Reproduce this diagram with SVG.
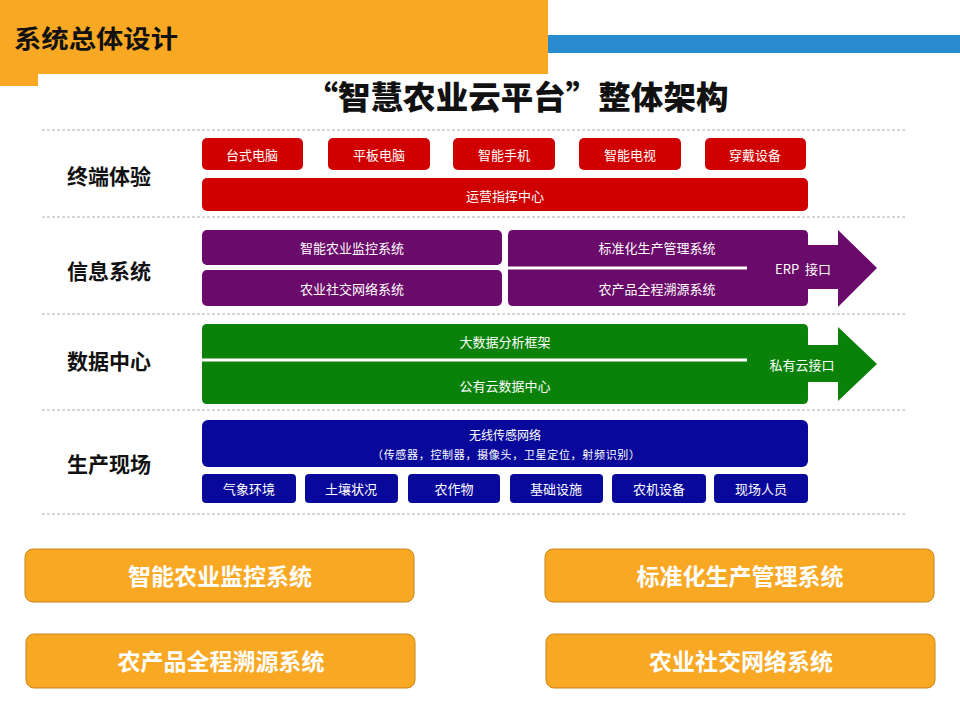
<svg xmlns="http://www.w3.org/2000/svg" width="960" height="720" viewBox="0 0 960 720">
<style>
text{font-family:"Noto Sans CJK SC","Noto Sans",sans-serif;}
.lbl{font-size:21px;font-weight:bold;fill:#111;text-anchor:middle;dominant-baseline:central;}
.t{font-size:13px;fill:#fff;text-anchor:middle;dominant-baseline:central;}
.s{font-size:11px;fill:#fff;text-anchor:middle;dominant-baseline:central;}
.red{fill:#d00000;}
.pur{fill:#6a0a6a;}
.grn{fill:#0a820a;}
.blu{fill:#08089a;}
.org{fill:#f9a824;stroke:#c9861a;stroke-width:1;}
.ot{font-size:23px;font-weight:bold;fill:#fff;text-anchor:middle;dominant-baseline:central;}
.dash{stroke:#a8b0b8;stroke-width:1;stroke-dasharray:3 2;fill:none;}
.sep{stroke:#fff;stroke-width:3;}
</style>
<rect width="960" height="720" fill="#fff"/>
<g id="header">
<rect x="0" y="0" width="548" height="74" fill="#f9a824"/>
<rect x="0" y="0" width="38" height="86" fill="#f9a824"/>
<rect x="548" y="35" width="412" height="18" fill="#2a8cd0"/>
<text x="14" y="37" textLength="164" lengthAdjust="spacingAndGlyphs" style="font-size:25px;font-weight:bold;fill:#111;dominant-baseline:central;">系统总体设计</text>
</g>
<g id="title">
<text x="517" y="95" textLength="423" lengthAdjust="spacingAndGlyphs" style="font-size:32px;font-weight:900;fill:#111;text-anchor:middle;dominant-baseline:central;">“智慧农业云平台”整体架构</text>
</g>
<g id="dividers">
<line class="dash" x1="42" y1="130" x2="905" y2="130"/>
<line class="dash" x1="42" y1="217" x2="905" y2="217"/>
<line class="dash" x1="42" y1="314" x2="905" y2="314"/>
<line class="dash" x1="42" y1="410" x2="905" y2="410"/>
<line class="dash" x1="42" y1="514" x2="905" y2="514"/>
</g>
<g id="row-labels">
<text class="lbl" x="109" y="175">终端体验</text>
<text class="lbl" x="109" y="270">信息系统</text>
<text class="lbl" x="109" y="360">数据中心</text>
<text class="lbl" x="109" y="463">生产现场</text>
</g>
<g id="terminal">
<rect class="red" x="202" y="138" width="101" height="32" rx="5"/><text class="t" x="252" y="154">台式电脑</text>
<rect class="red" x="328" y="138" width="102" height="32" rx="5"/><text class="t" x="379" y="154">平板电脑</text>
<rect class="red" x="453" y="138" width="102" height="32" rx="5"/><text class="t" x="504" y="154">智能手机</text>
<rect class="red" x="579" y="138" width="102" height="32" rx="5"/><text class="t" x="630" y="154">智能电视</text>
<rect class="red" x="705" y="138" width="101" height="32" rx="5"/><text class="t" x="755" y="154">穿戴设备</text>
<rect class="red" x="202" y="178" width="606" height="33" rx="5"/><text class="t" x="505" y="195">运营指挥中心</text>
</g>
<g id="info">
<rect class="pur" x="202" y="230" width="300" height="35" rx="5"/><text class="t" x="352" y="247">智能农业监控系统</text>
<rect class="pur" x="202" y="270" width="300" height="36" rx="5"/><text class="t" x="352" y="288">农业社交网络系统</text>
<path class="pur" d="M513,230 H803 Q808,230 808,235 V245 H838 V230 L877,268 L838,307 V289 H808 V301 Q808,306 803,306 H513 Q508,306 508,301 V235 Q508,230 513,230 Z"/>
<line class="sep" x1="508" y1="268" x2="747" y2="268"/>
<text class="t" x="657" y="247">标准化生产管理系统</text>
<text class="t" x="657" y="288">农产品全程溯源系统</text>
<text class="t" x="803" y="268" xml:space="preserve">ERP  接口</text>
</g>
<g id="data">
<path class="grn" d="M207,324 H803 Q808,324 808,329 V345 H838 V327 L877,364 L838,401 V382 H808 V399 Q808,404 803,404 H207 Q202,404 202,399 V329 Q202,324 207,324 Z"/>
<line class="sep" x1="202" y1="360" x2="747" y2="360"/>
<text class="t" x="505" y="341">大数据分析框架</text>
<text class="t" x="505" y="385">公有云数据中心</text>
<text class="t" x="802" y="364">私有云接口</text>
</g>
<g id="field">
<rect class="blu" x="202" y="420" width="606" height="47" rx="6"/>
<text class="t" x="505" y="434" style="font-size:12px">无线传感网络</text>
<text class="s" x="506" y="454" textLength="268" lengthAdjust="spacing">（传感器，控制器，摄像头，卫星定位，射频识别）</text>
<rect class="blu" x="202" y="474" width="94" height="29" rx="4"/><text class="t" x="249" y="488">气象环境</text>
<rect class="blu" x="305" y="474" width="93" height="29" rx="4"/><text class="t" x="351" y="488">土壤状况</text>
<rect class="blu" x="408" y="474" width="92" height="29" rx="4"/><text class="t" x="454" y="488">农作物</text>
<rect class="blu" x="510" y="474" width="93" height="29" rx="4"/><text class="t" x="556" y="488">基础设施</text>
<rect class="blu" x="612" y="474" width="94" height="29" rx="4"/><text class="t" x="659" y="488">农机设备</text>
<rect class="blu" x="714" y="474" width="94" height="29" rx="4"/><text class="t" x="761" y="488">现场人员</text>
</g>
<g id="sys1"><rect class="org" x="25" y="549" width="389" height="53" rx="8"/><text class="ot" x="220" y="575">智能农业监控系统</text></g>
<g id="sys2"><rect class="org" x="545" y="549" width="389" height="53" rx="8"/><text class="ot" x="740" y="575">标准化生产管理系统</text></g>
<g id="sys3"><rect class="org" x="26" y="634" width="389" height="54" rx="8"/><text class="ot" x="221" y="660">农产品全程溯源系统</text></g>
<g id="sys4"><rect class="org" x="546" y="634" width="389" height="54" rx="8"/><text class="ot" x="741" y="660">农业社交网络系统</text></g>
</svg>
